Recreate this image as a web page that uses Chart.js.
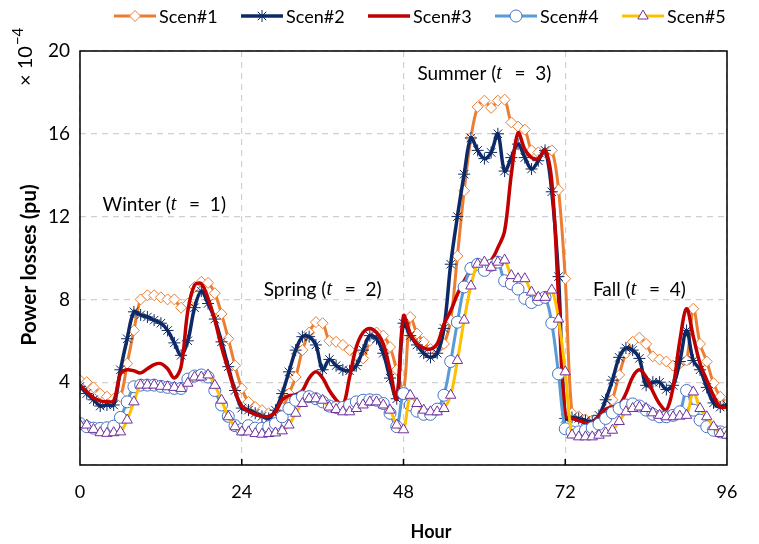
<!DOCTYPE html>
<html>
<head>
<meta charset="utf-8">
<script src="https://cdn.jsdelivr.net/npm/chart.js@4.4.0/dist/chart.umd.min.js"></script>
<style>
  html, body { margin: 0; padding: 0; background: #fff; }
  #wrap { width: 759px; height: 544px; }
</style>
</head>
<body>
<div id="wrap"><canvas id="chart" width="759" height="544"></canvas></div>
<script>
// hours of the 4 representative days (one season = 24 h)
const hours = [0,1,2,3,4,5,6,7,8,9,10,11,12,13,14,15,16,17,18,19,20,21,22,23,
  24,25,26,27,28,29,30,31,32,33,34,35,36,37,38,39,40,41,42,43,44,45,46,47,
  48,49,50,51,52,53,54,55,56,57,58,59,60,61,62,63,64,65,66,67,68,69,70,71,
  72,73,74,75,76,77,78,79,80,81,82,83,84,85,86,87,88,89,90,91,92,93,94,95,96];

// power losses, x 10^-4 pu
const scen1 = [4.1,4.0,3.75,3.45,3.3,3.2,3.3,4.9,6.5,8.0,8.2,8.2,8.1,8.0,8.0,7.6,7.8,8.6,8.85,8.8,8.3,7.3,6.1,4.8,
  3.7,3.05,2.8,2.65,2.5,2.4,2.75,3.45,4.25,5.55,6.4,6.9,6.85,6.0,5.95,5.8,5.55,5.3,5.15,6.0,6.4,6.25,5.7,4.6,
  3.6,7.15,6.35,5.95,5.6,5.6,5.85,7.0,10.1,13.25,15.8,17.3,17.6,17.25,17.6,17.65,16.55,16.35,16.2,15.2,15.1,15.1,15.2,13.3,
  9.0,2.5,2.35,2.2,2.15,2.1,2.35,3.15,4.35,5.4,5.95,6.15,5.85,5.25,5.1,5.0,4.8,4.9,5.05,7.55,5.85,5.0,3.95,3.3,2.95];
const scen2 = [3.8,3.45,3.15,2.85,2.9,2.9,4.6,6.1,7.4,7.25,7.15,7.0,6.85,6.5,5.9,5.3,6.0,7.6,8.4,7.8,7.05,5.95,4.75,3.6,
  2.75,2.65,2.5,2.35,2.25,2.65,3.45,4.5,5.55,6.2,6.2,5.8,4.6,5.1,4.8,4.6,4.55,4.8,5.55,6.25,6.1,5.4,4.2,3.2,
  6.85,6.25,5.8,5.4,5.2,5.4,6.6,9.7,12.0,14.05,15.8,15.2,14.8,15.1,16.0,14.2,14.85,15.5,14.85,14.3,14.7,15.2,13.2,9.1,
  2.25,2.3,2.25,2.15,2.1,2.4,3.15,4.1,5.2,5.65,5.55,5.15,3.85,4.0,4.0,3.65,3.85,5.0,6.5,5.05,4.6,3.75,3.0,2.8,2.9];
const scen3 = [3.85,3.55,3.25,3.1,3.05,3.1,4.4,4.6,4.55,4.45,4.65,4.85,4.9,4.65,4.2,4.75,7.45,8.7,8.75,8.05,7.0,5.7,4.6,3.55,
  2.85,2.6,2.45,2.35,2.35,2.55,3.15,3.35,3.4,3.6,4.2,4.5,4.2,3.6,3.15,2.85,4.25,5.7,6.4,6.6,6.4,5.85,4.6,3.2,
  7.2,6.35,5.85,5.65,5.6,5.85,6.8,7.45,8.25,8.9,9.4,9.7,9.8,9.9,10.5,11.3,14.05,16.05,15.25,14.85,14.8,15.2,13.7,8.1,
  2.4,2.25,2.15,2.05,2.05,2.35,2.7,2.8,2.9,3.45,4.25,4.6,4.25,3.55,2.95,2.65,3.75,6.0,7.55,6.2,4.9,4.1,3.35,2.8,2.8];
const scen4 = [2.0,1.85,1.78,1.77,1.8,1.88,2.3,3.05,3.78,3.86,3.86,3.86,3.8,3.75,3.7,3.7,4.15,4.3,4.35,4.25,3.6,2.9,2.35,1.9,
  1.72,1.9,1.78,1.77,1.85,2.0,2.33,2.73,3.13,3.3,3.3,3.2,3.05,2.85,2.78,2.78,2.9,3.05,3.13,3.15,3.13,2.97,2.5,1.85,
  3.45,2.9,2.6,2.45,2.45,2.7,3.37,5.0,6.9,8.6,9.5,9.7,9.4,9.65,9.8,8.9,8.75,8.5,8.05,7.85,8.0,8.1,6.85,4.4,
  1.75,1.6,1.6,1.68,1.8,1.97,2.25,2.52,2.73,2.9,2.95,2.85,2.65,2.45,2.33,2.33,2.4,2.57,3.6,2.65,2.17,1.85,1.68,1.6,1.55];
const scen5 = [1.95,1.93,1.72,1.56,1.53,1.56,1.6,2.17,3.05,3.86,3.86,3.86,3.8,3.78,3.75,3.7,3.95,4.25,4.25,4.35,3.85,3.13,2.33,1.85,
  1.6,1.6,1.52,1.49,1.52,1.55,1.65,1.93,2.5,2.97,3.2,3.2,3.13,2.8,2.68,2.57,2.57,2.73,2.9,3.05,3.05,2.9,2.65,1.93,
  1.7,3.37,2.97,2.65,2.57,2.57,2.73,3.37,5.05,7.0,8.65,9.7,9.8,9.55,9.8,9.9,9.15,9.0,9.0,8.35,8.1,8.1,8.45,7.05,
  4.5,1.45,1.36,1.36,1.36,1.44,1.55,1.68,2.1,2.57,2.73,2.8,2.73,2.52,2.4,2.33,2.33,2.36,2.4,3.53,2.73,2.33,1.85,1.52,1.44];

const seriesNames = ['Scen#1', 'Scen#2', 'Scen#3', 'Scen#4', 'Scen#5'];
const xTicks = [0, 24, 48, 72, 96];
const yTicks = [4, 8, 12, 16, 20];
const seasonNames = ['Winter', 'Spring', 'Summer', 'Fall'];
const seasonIdx = ['1', '2', '3', '4'];

const FONT = 'Lato';

function pts(arr) {
  return arr.map((v, i) => ({ x: hours[i], y: v }));
}

function makeSet(label, data, color, width, style, pColor, radius, order) {
  return {
    label: label,
    data: pts(data),
    borderColor: color,
    borderWidth: width,
    pointStyle: style,
    pointRadius: radius,
    pointHoverRadius: radius,
    pointBackgroundColor: '#fff',
    pointBorderColor: pColor,
    pointBorderWidth: 1,
    tension: 0.35,
    fill: false,
    order: order
  };
}

const datasets = [
  makeSet(seriesNames[0], scen1, '#ED7D31', 3, 'rectRot', '#ED7D31', 5.5, 5),
  makeSet(seriesNames[1], scen2, '#0D2A66', 3.5, 'star', '#0D2A66', 6, 4),
  makeSet(seriesNames[2], scen3, '#C00000', 3.5, false, '#C00000', 0, 3),
  makeSet(seriesNames[3], scen4, '#5B9BD5', 3, 'circle', '#4472C4', 6, 2),
  makeSet(seriesNames[4], scen5, '#FFC000', 3, 'triangle', '#7030A0', 6, 1)
];

// legend (line + marker), titles, season notes and the plot frame
const extras = {
  id: 'extras',
  afterDraw(chart) {
    const ctx = chart.ctx;
    const a = chart.chartArea;
    const xs = chart.scales.x, ys = chart.scales.y;
    ctx.save();

    // frame
    ctx.strokeStyle = '#000';
    ctx.lineWidth = 1.5;
    ctx.strokeRect(a.left, a.top, a.right - a.left, a.bottom - a.top);
    // small inside ticks on x axis
    xTicks.slice(1, -1).forEach(h => {
      const px = xs.getPixelForValue(h);
      ctx.beginPath(); ctx.moveTo(px, a.bottom); ctx.lineTo(px, a.bottom - 6); ctx.stroke();
    });

    // legend
    ctx.textBaseline = 'middle';
    ctx.textAlign = 'left';
    ctx.font = '18px ' + FONT;
    datasets.forEach((d, i) => {
      const x0 = 114 + i * 127, y0 = 16;
      ctx.strokeStyle = d.borderColor;
      ctx.lineWidth = d.borderWidth;
      ctx.beginPath(); ctx.moveTo(x0, y0); ctx.lineTo(x0 + 42, y0); ctx.stroke();
      if (d.pointRadius > 0) {
        ctx.fillStyle = '#fff';
        ctx.strokeStyle = d.pointBorderColor;
        ctx.lineWidth = 1;
        Chart.helpers.drawPoint(ctx, { pointStyle: d.pointStyle, rotation: 0, borderWidth: 1, radius: d.pointRadius }, x0 + 21, y0);
      }
      ctx.fillStyle = '#000';
      ctx.fillText(d.label, x0 + 45, y0 + 1);
    });

    // axis titles
    ctx.font = 'bold 18px ' + FONT;
    ctx.textAlign = 'center';
    ctx.fillText('Hour', 431, 532);
    ctx.save();
    ctx.translate(29, 265);
    ctx.rotate(-Math.PI / 2);
    ctx.font = 'bold 21px ' + FONT;
    ctx.fillText('Power losses (pu)', 0, 0);
    ctx.restore();

    // x 10^-4 multiplier
    ctx.save();
    ctx.translate(26, 86);
    ctx.rotate(-Math.PI / 2);
    ctx.textAlign = 'left';
    ctx.font = '20px ' + FONT;
    const base = '\u00d7 10';
    ctx.fillText(base, 0, 0);
    const bw = ctx.measureText(base).width;
    ctx.font = '15px ' + FONT;
    ctx.fillText('\u2212' + '4', bw + 1, -8);
    ctx.restore();

    // season notes: name (t = k)
    const notePos = [[12.5, 12.55], [36, 8.45], [60, 18.9], [83, 8.45]];
    seasonNames.forEach((name, i) => {
      const cx = xs.getPixelForValue(notePos[i][0]);
      const cy = ys.getPixelForValue(notePos[i][1]);
      const parts = [
        [name + ' (', '19px ' + FONT, 0],
        ['t', 'italic 20px "Liberation Serif"', 3],
        ['  =  ' + seasonIdx[i], '19px ' + FONT, 0],
        [')', '19px ' + FONT, 0]
      ];
      let total = 0;
      parts.forEach(p => { ctx.font = p[1]; total += ctx.measureText(p[0]).width + p[2]; });
      let x = cx - total / 2;
      ctx.textAlign = 'left';
      ctx.fillStyle = '#000';
      parts.forEach(p => {
        ctx.font = p[1];
        ctx.fillText(p[0], x, cy);
        x += ctx.measureText(p[0]).width + p[2];
      });
    });
    ctx.restore();
  }
};

new Chart(document.getElementById('chart'), {
  type: 'line',
  data: { datasets: datasets },
  options: {
    responsive: false,
    animation: false,
    layout: { padding: { top: 51, right: 32, left: 0, bottom: 0 } },
    plugins: { legend: { display: false }, tooltip: { enabled: false } },
    scales: {
      x: {
        type: 'linear',
        min: 0, max: 96,
        afterFit(scale) { scale.height = 79; },
        afterBuildTicks(scale) { scale.ticks = xTicks.map(v => ({ value: v })); },
        ticks: { color: '#000', font: { family: FONT, size: 18 }, padding: 16, maxRotation: 0 },
        grid: { color: '#d0d0d0', lineWidth: 1.2, drawTicks: false },
        border: { display: false, dash: [6, 5] }
      },
      y: {
        min: 0, max: 20,
        afterFit(scale) { scale.width = 80; },
        afterBuildTicks(scale) { scale.ticks = [0].concat(yTicks).map(v => ({ value: v })); },
        ticks: { color: '#000', font: { family: FONT, size: 19 }, padding: 10,
          callback: v => (v === 0 ? '' : v) },
        grid: { color: '#d0d0d0', lineWidth: 1.2, drawTicks: false },
        border: { display: false, dash: [6, 5] }
      }
    }
  },
  plugins: [extras]
});
</script>
</body>
</html>
